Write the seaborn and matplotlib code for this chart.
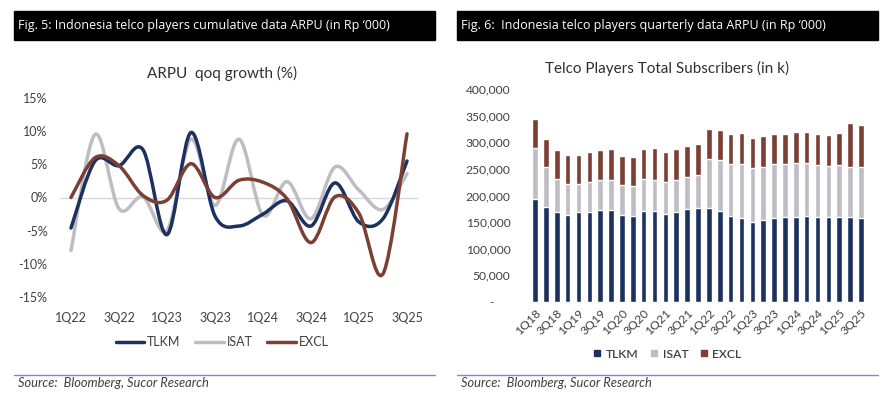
import numpy as np
import pandas as pd
import matplotlib
matplotlib.use("Agg")
import matplotlib.pyplot as plt
import seaborn as sns
from matplotlib.path import Path
from matplotlib.patches import PathPatch, Rectangle
from matplotlib.lines import Line2D

# ---- data ----
arpu_quarters = ["1Q22", "2Q22", "3Q22", "4Q22", "1Q23", "2Q23", "3Q23", "4Q23",
                 "1Q24", "2Q24", "3Q24", "4Q24", "1Q25", "2Q25", "3Q25"]
tlkm_growth = [-4.6, 5.5, 4.8, 7.2, -5.6, 9.8, -2.8, -4.3, -2.5, -0.5, -4.3, 2.2, -3.7, -3.2, 5.5]
isat_growth = [-8.0, 9.5, -1.7, 0.1, -5.0, 8.8, -1.2, 8.8, -2.7, 2.4, -3.2, 4.6, 1.1, -1.8, 3.6]
excl_growth = [0.0, 6.0, 4.8, 0.3, -0.4, 5.1, 0.0, 2.6, 2.3, -0.2, -6.8, 0.1, -2.4, -11.5, 9.6]

sub_quarters = [f"{q}Q{y}" for y in range(18, 26) for q in range(1, 5)][:31]
tlkm_subs = [193, 178, 168, 163, 168, 168, 172, 172, 163, 161, 170, 170, 165, 168, 174, 176,
             176, 170, 161, 157, 151, 154, 158, 159, 159, 161, 159, 159, 159, 159, 158]
isat_subs = [97, 75, 64, 59, 54, 57, 58, 58, 56, 57, 61, 60, 60, 62, 61, 63,
             93, 96, 98, 103, 100, 100, 101, 100, 103, 101, 98, 96, 98, 94, 95]
excl_subs = [54, 53, 54, 54, 55, 57, 56, 57, 56, 55, 56, 59, 56, 57, 59, 58,
             57, 58, 57, 58, 57, 58, 57, 57, 57, 58, 59, 59, 61, 83, 80]

NAVY = "#1c315f"
GREY = "#bdbdc3"
BROWN = "#7b3f34"
TXT = "#404040"

W, H = 885, 397


def fx(px):
    return px / W


def fy(py):
    return 1 - py / H


def smooth_path(x, y):
    # excel-style smoothed line as cubic bezier segments
    x = np.asarray(x, float)
    y = np.asarray(y, float)
    n = len(x)
    verts = [(x[0], y[0])]
    codes = [Path.MOVETO]
    for i in range(n - 1):
        a = max(i - 1, 0)
        b = min(i + 2, n - 1)
        c1 = (x[i] + (x[i + 1] - x[a]) / 6, y[i] + (y[i + 1] - y[a]) / 6)
        c2 = (x[i + 1] - (x[b] - x[i]) / 6, y[i + 1] - (y[b] - y[i]) / 6)
        verts += [c1, c2, (x[i + 1], y[i + 1])]
        codes += [Path.CURVE4] * 3
    return Path(verts, codes)


sns.set_theme(style="white")
plt.rcParams['font.family'] = ['Lato', 'DejaVu Sans']

fig = plt.figure(figsize=(W / 100, H / 100), dpi=100)

# ---- headers ----
for x0, x1, text in [(14, 435, "Fig. 5: Indonesia telco players cumulative data ARPU (in Rp \u2018000)"),
                     (457, 878, "Fig. 6:  Indonesia telco players quarterly data ARPU (in Rp \u2018000)")]:
    fig.patches.append(Rectangle((fx(x0), fy(40)), fx(x1 - x0), 29 / H,
                                 transform=fig.transFigure, color="black", zorder=0))
    fig.text(fx(x0 + 4), fy(25.5), text, color="white", fontsize=9,
             family=['Open Sans', 'DejaVu Sans'], va="center", ha="left")
    fig.add_artist(Line2D([fx(x0), fx(x1)], [fy(375), fy(375)], color="#6b93cf", lw=1))
    fig.text(fx(x0 + 4), fy(383), "Source:  Bloomberg, Sucor Research", color=TXT,
             fontsize=9.3, style="italic", va="center", ha="left")

# ---- left: ARPU qoq growth ----
axl = fig.add_axes([fx(60.2), fy(297), fx(357.6), 199 / H])
xs = np.arange(len(arpu_quarters))
for vals, col in [(isat_growth, GREY), (tlkm_growth, NAVY), (excl_growth, BROWN)]:
    axl.add_patch(PathPatch(smooth_path(xs, vals), fill=False, edgecolor=col,
                            lw=2.5, capstyle="round", joinstyle="round", zorder=3))
axl.axhline(0, color="#d9d9d9", lw=1, zorder=1)
axl.set_xlim(-0.45, 14.45)
axl.set_ylim(-15, 15)
axl.set_yticks([15, 10, 5, 0, -5, -10, -15])
axl.set_yticklabels(["15%", "10%", "5%", "0%", "-5%", "-10%", "-15%"])
axl.set_xticks(xs[::2])
axl.set_xticklabels(arpu_quarters[::2])
axl.tick_params(axis="both", length=0, labelsize=9, labelcolor=TXT)
axl.tick_params(axis="y", pad=9)
axl.tick_params(axis="x", pad=11)
for s in axl.spines.values():
    s.set_visible(False)
axl.set_facecolor("none")
fig.text(fx(222), fy(73), "ARPU  qoq growth (%)", ha="center", va="center",
         fontsize=11, color="#303030")
lh = [Line2D([], [], color=c, lw=2.5) for c in (NAVY, GREY, BROWN)]
fig.legend(lh, ["TLKM", "ISAT", "EXCL"], loc="center", bbox_to_anchor=(fx(222), fy(342)),
           ncol=3, frameon=False, fontsize=9, handlelength=2.3, handletextpad=0.2,
           columnspacing=1.2, labelcolor=TXT)

# ---- right: subscribers stacked bars ----
df = pd.DataFrame({"quarter": sub_quarters,
                   "tlkm": np.array(tlkm_subs) * 1000,
                   "isat": np.array(isat_subs) * 1000,
                   "excl": np.array(excl_subs) * 1000})
df["tlkm_isat"] = df["tlkm"] + df["isat"]
df["total"] = df["tlkm_isat"] + df["excl"]

axr = fig.add_axes([fx(528.5), fy(301.7), fx(339), 212.4 / H])
for col, c in [("total", BROWN), ("tlkm_isat", GREY), ("tlkm", NAVY)]:
    sns.barplot(data=df, x="quarter", y=col, order=sub_quarters, color=c,
                saturation=1, width=0.52, ax=axr)
axr.set_xlim(-0.6, 30.6)
axr.set_ylim(0, 400000)
axr.set_xlabel("")
axr.set_ylabel("")
yt = np.arange(0, 400001, 50000)
axr.set_yticks(yt)
axr.set_yticklabels(["-     "] + [f"{v:,.0f}" for v in yt[1:]])
axr.set_xticks(np.arange(0, 31, 2))
axr.set_xticklabels(sub_quarters[::2], rotation=45, ha="right", rotation_mode="anchor")
axr.tick_params(axis="both", length=0, labelsize=8.7, labelcolor=TXT)
axr.tick_params(axis="y", pad=13)
axr.tick_params(axis="x", pad=4)
for s in axr.spines.values():
    s.set_visible(False)
axr.set_facecolor("none")
fig.text(fx(667), fy(68), "Telco Players Total Subscribers (in k)", ha="center",
         va="center", fontsize=11, color="#303030")
rh = [Line2D([], [], marker="s", ls="none", color=c, markersize=5) for c in (NAVY, GREY, BROWN)]
fig.legend(rh, ["TLKM", "ISAT", "EXCL"], loc="center", bbox_to_anchor=(fx(667), fy(354)),
           ncol=3, frameon=False, handlelength=0.8, handletextpad=0.3,
           columnspacing=0.9, labelcolor=TXT, prop={"weight": "semibold", "size": 8.7})

fig.savefig("out.png", dpi=100)
